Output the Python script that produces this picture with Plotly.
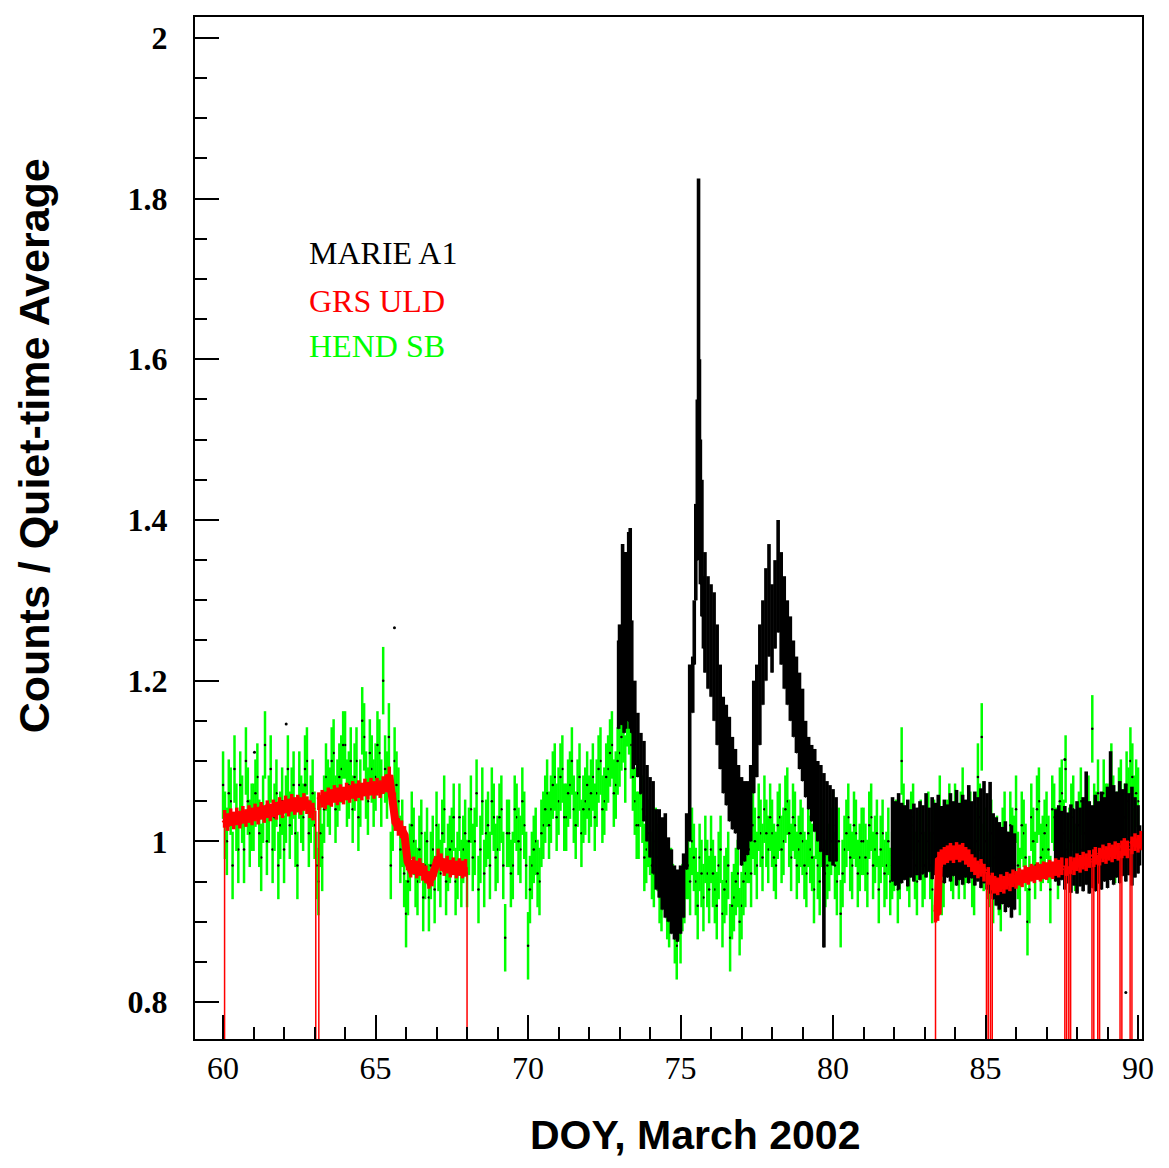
import plotly.graph_objects as go

# ---------------- DATA ----------------
# HEND SB: two interleaved sample sets, every HEND_DT days
HEND_T0_A = 60.0
HEND_T0_B = 60.0625
HEND_DT = 0.125
HEND_ERR = 0.042
hend_sb_a = [
    1.07, 1.00, 1.05, 1.09, 0.99, 1.04, 1.10, 1.01,   # 60
    1.03, 1.08, 0.98, 1.12, 1.04, 0.99, 1.06, 1.02,   # 61
    0.99, 1.09, 1.05, 1.01, 1.07, 1.03, 1.10, 1.04,   # 62
    1.02, 0.95, 0.98, 1.08, 1.05, 1.11, 1.06, 1.09,   # 63
    1.12, 1.07, 1.04, 1.10, 1.06, 1.13, 1.05, 1.09,   # 64
    1.08, 1.11, 1.20, 1.07, 0.97, 1.10, 1.05, 1.01,   # 65
    0.91, 0.98, 1.00, 0.95, 1.01, 0.97, 0.93, 0.99,   # 66
    1.02, 0.96, 1.04, 0.98, 1.00, 0.95, 1.03, 0.99,   # 67
    0.96, 1.04, 1.00, 0.94, 1.05, 1.01, 0.97, 1.03,   # 68
    0.99, 1.04, 0.88, 1.01, 0.97, 1.03, 0.99, 1.02,   # 69
    0.87, 0.97, 1.00, 0.95, 1.02, 1.06, 1.04, 1.08,   # 70
    1.05, 1.09, 1.03, 1.07, 1.04, 1.06, 1.01, 1.05,   # 71
    1.04, 1.08, 1.06, 1.10, 1.05, 1.09, 1.12, 1.07,   # 72
    1.11, 1.14, 1.16, 1.12, 1.05, 1.02, 1.04, 0.99,   # 73
    1.00, 0.96, 0.98, 0.93, 0.95, 0.91, 0.93, 0.87,   # 74
    0.89, 0.94, 0.97, 1.00, 0.95, 0.98, 0.93, 0.96,   # 75
    0.99, 0.94, 0.97, 0.91, 0.95, 0.88, 0.93, 0.96,   # 76
    0.92, 0.96, 0.99, 1.02, 0.97, 1.01, 1.04, 0.99,   # 77
    1.01, 0.97, 1.03, 1.00, 1.05, 0.98, 1.02, 0.99,   # 78
    1.00, 0.96, 0.99, 0.94, 0.97, 1.01, 0.96, 0.98,   # 79
    1.02, 0.95, 0.91, 0.99, 1.03, 0.97, 1.01, 0.98,   # 80
    1.00, 0.96, 1.03, 0.99, 0.94, 1.01, 0.97, 0.95,   # 81
    0.98, 0.94, 1.10, 1.00, 0.96, 1.03, 0.95, 1.01,   # 82
    0.97, 1.02, 0.94, 1.00, 1.04, 0.96, 1.01, 0.98,   # 83
    1.03, 0.97, 1.05, 0.99, 1.02, 0.95, 1.08, 1.13,   # 84
    1.00, 0.96, 0.94, 0.99, 0.93, 1.02, 0.97, 1.00,   # 85
    1.04, 0.95, 1.01, 0.90, 1.03, 0.97, 1.05, 0.99,   # 86
    1.02, 0.94, 1.03, 0.97, 1.06, 1.09, 1.00, 1.04,   # 87
    0.98, 1.05, 1.01, 1.04, 1.14, 1.02, 0.99, 1.06,   # 88
    1.03, 1.08, 0.99, 1.05, 1.01, 1.07, 1.10, 1.04,   # 89
    1.05,                                             # 90
]
hend_sb_b = [
    1.02, 1.06, 0.97, 1.03, 1.07, 0.99, 1.05, 1.03,   # 60
    1.06, 1.01, 1.04, 1.00, 1.09, 1.03, 0.97, 1.05,   # 61
    1.04, 1.02, 1.07, 0.97, 1.04, 1.09, 1.01, 1.06,   # 62
    0.97, 1.01, 1.04, 1.06, 1.10, 1.04, 1.08, 1.12,   # 63
    1.06, 1.10, 1.08, 1.03, 1.15, 1.07, 1.11, 1.06,   # 64
    1.12, 1.06, 1.09, 1.13, 1.03, 1.07, 0.99, 0.96,   # 65
    0.95, 1.02, 0.96, 0.99, 0.93, 1.00, 0.97, 0.94,   # 66
    0.98, 1.01, 0.95, 0.99, 1.03, 0.97, 0.96, 1.01,   # 67
    1.00, 0.98, 1.06, 0.99, 0.96, 1.02, 1.05, 0.98,   # 68
    1.03, 0.97, 1.01, 0.96, 1.04, 1.00, 1.05, 0.97,   # 69
    0.94, 0.99, 0.96, 1.01, 1.04, 1.02, 1.07, 1.03,   # 70
    1.08, 1.03, 1.06, 1.10, 1.02, 1.08, 1.04, 1.07,   # 71
    1.06, 1.03, 1.09, 1.04, 1.08, 1.11, 1.06, 1.10,   # 72
    1.13, 1.09, 1.15, 1.08, 1.02, 1.06, 0.98, 1.01,   # 73
    0.97, 1.00, 0.94, 0.97, 0.92, 0.95, 0.89, 0.92,   # 74
    0.93, 0.97, 0.95, 0.98, 0.92, 0.96, 0.99, 0.94,   # 75
    0.96, 0.92, 0.99, 0.94, 0.97, 0.92, 0.95, 0.90,   # 76
    0.95, 0.99, 0.96, 1.00, 1.03, 0.98, 1.01, 1.03,   # 77
    0.98, 1.02, 0.99, 1.04, 1.01, 1.03, 0.97, 1.01,   # 78
    0.97, 1.01, 0.98, 1.02, 0.95, 0.99, 0.97, 1.00,   # 79
    0.97, 1.00, 0.96, 1.01, 0.98, 1.02, 0.96, 1.00,   # 80
    0.98, 1.02, 0.97, 1.01, 0.99, 0.96, 1.00, 0.97,   # 81
    1.01, 0.97, 1.03, 0.98, 1.02, 0.97, 1.00, 0.96,   # 82
    1.00, 0.97, 1.01, 0.98, 0.95, 1.00, 1.03, 0.97,   # 83
    0.99, 1.02, 0.97, 1.01, 0.96, 1.00, 1.03, 0.98,   # 84
    0.97, 1.01, 0.98, 0.95, 1.00, 0.97, 1.02, 0.99,   # 85
    0.97, 1.02, 0.98, 0.94, 1.00, 1.04, 0.98, 1.01,   # 86
    0.99, 1.04, 1.00, 1.05, 1.01, 0.99, 1.03, 0.98,   # 87
    1.02, 0.99, 1.04, 1.00, 1.03, 1.06, 1.01, 1.03,   # 88
    1.01, 1.04, 1.02, 1.06, 1.03, 1.05, 1.08, 1.06,   # 89
]

# MARIE A1 upper / lower envelope - segment 1
marie1_x = [72.97, 73.00, 73.05, 73.10, 73.15, 73.20, 73.25, 73.30, 73.35, 73.40, 73.45, 73.50,
            73.60, 73.70, 73.80, 73.90, 74.00, 74.10, 74.20, 74.30, 74.40, 74.50,
            74.60, 74.70, 74.80, 74.90, 75.00, 75.10, 75.20, 75.30, 75.40, 75.45, 75.50,
            75.55, 75.59, 75.62, 75.65, 75.70, 75.75, 75.80, 75.90, 76.00, 76.10, 76.20,
            76.30, 76.40, 76.50, 76.60, 76.70, 76.80, 76.90, 77.00, 77.10, 77.20,
            77.30, 77.40, 77.50, 77.60, 77.70, 77.80, 77.90, 78.00, 78.10, 78.20,
            78.30, 78.40, 78.50, 78.60, 78.70, 78.80, 78.90, 79.00, 79.10, 79.20,
            79.30, 79.40, 79.50, 79.60, 79.70, 79.80, 79.90, 80.00, 80.10]
marie1_hi = [1.25, 1.27, 1.26, 1.37, 1.26, 1.36, 1.33, 1.385, 1.39, 1.275, 1.18, 1.20,
             1.16, 1.135, 1.125, 1.095, 1.08, 1.075, 1.04, 1.04, 1.03, 1.035,
             1.005, 0.99, 0.97, 0.965, 0.97, 0.985, 1.035, 1.22, 1.23, 1.30, 1.42,
             1.55, 1.825, 1.60, 1.50, 1.45, 1.33, 1.36, 1.33, 1.32, 1.31, 1.27,
             1.22, 1.18, 1.17, 1.155, 1.13, 1.115, 1.095, 1.08, 1.075, 1.075,
             1.095, 1.20, 1.22, 1.27, 1.30, 1.34, 1.37, 1.32, 1.35, 1.40,
             1.36, 1.33, 1.30, 1.28, 1.25, 1.23, 1.21, 1.19, 1.15, 1.13,
             1.12, 1.115, 1.10, 1.095, 1.085, 1.075, 1.07, 1.065, 1.055]
marie1_lo = [1.14, 1.15, 1.145, 1.145, 1.135, 1.14, 1.15, 1.15, 1.14, 1.135, 1.09, 1.095,
             1.08, 1.06, 1.025, 1.00, 0.98, 0.96, 0.94, 0.93, 0.915, 0.905,
             0.90, 0.885, 0.878, 0.875, 0.885, 0.905, 0.965, 1.00, 1.16, 1.22, 1.30,
             1.35, 1.38, 1.36, 1.32, 1.28, 1.24, 1.21, 1.19, 1.18, 1.15, 1.12,
             1.09, 1.06, 1.045, 1.025, 1.015, 1.01, 0.99, 0.97, 0.975, 0.983,
             1.00, 1.06, 1.08, 1.12, 1.17, 1.20, 1.23, 1.21, 1.24, 1.26,
             1.22, 1.19, 1.17, 1.15, 1.13, 1.11, 1.09, 1.075, 1.055, 1.04,
             1.025, 1.012, 1.00, 0.987, 0.868, 0.983, 0.975, 0.97, 0.975]

# MARIE A1 envelope - segment 2
marie2_x = [81.95, 82.05, 82.15, 82.25, 82.35, 82.45, 82.55, 82.65, 82.75, 82.85,
            82.95, 83.05, 83.15, 83.25, 83.35, 83.45, 83.55, 83.65, 83.75, 83.85,
            83.95, 84.05, 84.15, 84.25, 84.35, 84.45, 84.55, 84.65, 84.75, 84.85,
            84.95, 85.05, 85.15, 85.25, 85.35, 85.45, 85.55, 85.65, 85.75, 85.85, 85.95]
marie2_hi = [1.055, 1.05, 1.06, 1.048, 1.045, 1.052, 1.04, 1.047, 1.042, 1.05,
             1.045, 1.06, 1.042, 1.055, 1.048, 1.058, 1.044, 1.052, 1.046, 1.06,
             1.05, 1.064, 1.048, 1.058, 1.052, 1.07, 1.05, 1.062, 1.055, 1.066,
             1.075, 1.06, 1.074, 1.035, 1.03, 1.024, 1.018, 1.025, 1.012, 1.02, 1.01]
marie2_lo = [0.95, 0.945, 0.94, 0.948, 0.952, 0.944, 0.955, 0.95, 0.958, 0.952,
             0.96, 0.955, 0.962, 0.953, 0.958, 0.95, 0.956, 0.948, 0.955, 0.95,
             0.957, 0.945, 0.952, 0.946, 0.955, 0.948, 0.954, 0.945, 0.95, 0.942,
             0.948, 0.94, 0.935, 0.928, 0.92, 0.915, 0.922, 0.912, 0.918, 0.905, 0.915]

# MARIE A1 envelope - segment 3
marie3_x = [87.3, 87.4, 87.5, 87.6, 87.7, 87.8, 87.9, 88.0, 88.1, 88.2,
            88.3, 88.4, 88.5, 88.6, 88.7, 88.8, 88.9, 89.0, 89.1, 89.2,
            89.3, 89.4, 89.5, 89.6, 89.7, 89.8, 89.9, 90.0, 90.05]
marie3_hi = [1.04, 1.045, 1.038, 1.044, 1.036, 1.046, 1.04, 1.05, 1.042, 1.055,
             1.087, 1.05, 1.045, 1.058, 1.05, 1.062, 1.055, 1.068, 1.112, 1.07,
             1.062, 1.075, 1.065, 1.072, 1.06, 1.068, 1.055, 1.045, 1.02]
marie3_lo = [0.95, 0.945, 0.952, 0.94, 0.948, 0.936, 0.945, 0.935, 0.944, 0.938,
             0.946, 0.935, 0.942, 0.938, 0.948, 0.94, 0.95, 0.942, 0.952, 0.946,
             0.955, 0.948, 0.957, 0.95, 0.958, 0.945, 0.955, 0.96, 0.97]

# isolated MARIE points
marie_dot_x = [61.03, 62.07, 62.69, 65.62, 87.60, 89.60]
marie_dot_y = [1.111, 1.146, 1.070, 1.266, 1.102, 0.812]

# GRS ULD (0.0 = data dropout, drawn off-scale)
GRS_HALF_WIDTH = 0.011
grs_x = [60.00, 60.05, 60.15, 60.25, 60.35, 60.45, 60.55, 60.65, 60.75, 60.85, 60.95,
         61.05, 61.15, 61.25, 61.35, 61.45, 61.55, 61.65, 61.75, 61.85, 61.95,
         62.05, 62.15, 62.25, 62.35, 62.45, 62.55, 62.65, 62.75, 62.85, 62.95,
         63.04, 63.14, 63.25, 63.35, 63.45, 63.55, 63.65, 63.75, 63.85, 63.95,
         64.05, 64.15, 64.25, 64.35, 64.45, 64.55, 64.65, 64.75, 64.85, 64.95,
         65.05, 65.15, 65.25, 65.35, 65.45, 65.55, 65.65, 65.75, 65.85, 65.95,
         66.05, 66.15, 66.25, 66.35, 66.45, 66.55, 66.65, 66.75, 66.85, 66.95,
         67.05, 67.15, 67.25, 67.35, 67.45, 67.55, 67.65, 67.75, 67.85, 67.95, 68.00,
         83.33, 83.36, 83.43, 83.47, 83.55, 83.65, 83.75, 83.85, 83.95, 84.05, 84.15,
         84.25, 84.35, 84.45, 84.55, 84.65, 84.75, 84.85, 84.95,
         85.03, 85.09, 85.16, 85.22, 85.30, 85.40, 85.50, 85.60, 85.70, 85.80, 85.90,
         86.00, 86.10, 86.20, 86.30, 86.40, 86.50, 86.60, 86.70, 86.80, 86.90, 87.00,
         87.10, 87.20, 87.30, 87.40, 87.50,
         87.60, 87.66, 87.73, 87.79, 87.90, 88.00, 88.10, 88.20, 88.30, 88.40,
         88.49, 88.55, 88.60, 88.68, 88.74, 88.85, 88.95, 89.05, 89.15, 89.25, 89.35,
         89.41, 89.47, 89.55, 89.65, 89.74, 89.80, 89.90, 90.00, 90.10, 90.13]
grs_y = [0.0, 1.028, 1.024, 1.030, 1.026, 1.031, 1.027, 1.033, 1.029, 1.034, 1.031,
         1.036, 1.032, 1.038, 1.034, 1.040, 1.036, 1.041, 1.038, 1.044, 1.040,
         1.046, 1.042, 1.048, 1.044, 1.047, 1.044, 1.049, 1.045, 1.040, 1.037,
         0.0, 1.050, 1.053, 1.051, 1.056, 1.054, 1.059, 1.056, 1.060, 1.057,
         1.062, 1.059, 1.064, 1.061, 1.065, 1.062, 1.067, 1.063, 1.068, 1.064,
         1.068, 1.065, 1.070, 1.072, 1.082, 1.060, 1.024, 1.018, 1.015, 1.008,
         0.975, 0.966, 0.970, 0.965, 0.968, 0.962, 0.959, 0.952, 0.955, 0.967,
         0.980, 0.974, 0.968, 0.971, 0.966, 0.969, 0.965, 0.968, 0.965, 0.967, 0.0,
         0.0, 0.910, 0.912, 0.976, 0.979, 0.982, 0.984, 0.987, 0.984, 0.988, 0.985,
         0.987, 0.982, 0.979, 0.973, 0.969, 0.965, 0.967, 0.961,
         0.0, 0.957, 0.0, 0.950, 0.946, 0.944, 0.948, 0.946, 0.951, 0.949, 0.954,
         0.952, 0.956, 0.954, 0.959, 0.957, 0.961, 0.959, 0.963, 0.961, 0.964, 0.963,
         0.966, 0.964, 0.968, 0.966, 0.969,
         0.0, 0.968, 0.0, 0.970, 0.969, 0.974, 0.972, 0.976, 0.974, 0.978,
         0.0, 0.979, 0.982, 0.0, 0.981, 0.985, 0.983, 0.987, 0.985, 0.989, 0.987,
         0.0, 0.990, 0.993, 0.990, 0.0, 0.995, 0.999, 0.997, 1.002, 1.000]

x_ticks = [60, 65, 70, 75, 80, 85, 90]
y_ticks = [0.8, 1.0, 1.2, 1.4, 1.6, 1.8, 2.0]
y_tick_text = ["0.8", "1", "1.2", "1.4", "1.6", "1.8", "2"]

# ---------------- FIGURE ----------------
GREEN = "#00ff00"
RED = "#ff0000"

fig = go.Figure()

for t0, vals in [(HEND_T0_A, hend_sb_a), (HEND_T0_B, hend_sb_b)]:
    xs = [t0 + i * HEND_DT for i in range(len(vals))]
    fig.add_trace(go.Scatter(
        x=xs, y=vals, mode="markers",
        marker=dict(color="black", size=2.5),
        error_y=dict(type="constant", value=HEND_ERR, color=GREEN, thickness=2.5, width=0),
        showlegend=False, hoverinfo="skip"))

for xs, hi, lo in [(marie1_x, marie1_hi, marie1_lo),
                   (marie2_x, marie2_hi, marie2_lo),
                   (marie3_x, marie3_hi, marie3_lo)]:
    fig.add_trace(go.Scatter(
        x=xs, y=lo, mode="markers",
        marker=dict(color="black", size=1),
        error_y=dict(type="data", symmetric=False,
                     array=[h - l for h, l in zip(hi, lo)],
                     arrayminus=[0] * len(lo),
                     color="black", thickness=3.6, width=0),
        showlegend=False, hoverinfo="skip"))

fig.add_trace(go.Scatter(
    x=marie_dot_x, y=marie_dot_y, mode="markers",
    marker=dict(color="black", size=3), showlegend=False, hoverinfo="skip"))

grs_band = [v if v > 0.5 else None for v in grs_y]
fig.add_trace(go.Scatter(
    x=grs_x, y=grs_y, mode="lines", line=dict(color=RED, width=1.5, shape="hv"),
    showlegend=False, hoverinfo="skip"))
fig.add_trace(go.Scatter(
    x=grs_x, y=grs_band, mode="lines", line=dict(color=RED, width=8),
    error_y=dict(type="constant", value=GRS_HALF_WIDTH, color=RED, thickness=3.5, width=0),
    connectgaps=False, showlegend=False, hoverinfo="skip"))

serif = "Liberation Serif, Times New Roman, serif"
sans = "Liberation Sans, Arial, sans-serif"

fig.update_layout(
    width=1161, height=1160,
    margin=dict(l=187, r=27, t=7, b=129),
    paper_bgcolor="white", plot_bgcolor="white",
    showlegend=False,
    xaxis=dict(
        range=[59.08, 90.13], showgrid=False, zeroline=False,
        showline=True, linecolor="black", linewidth=2, mirror=True,
        tickmode="array", tickvals=x_ticks, ticktext=[str(t) for t in x_ticks],
        ticks="inside", ticklen=24, tickwidth=1.5, tickcolor="black",
        minor=dict(dtick=1, tick0=60, ticks="inside", ticklen=12, tickwidth=1.5,
                   tickcolor="black", showgrid=False),
        tickfont=dict(family=serif, size=32, color="black"),
        ticklabelstandoff=0,
    ),
    yaxis=dict(
        range=[0.754, 2.026], showgrid=False, zeroline=False,
        showline=True, linecolor="black", linewidth=2, mirror=True,
        tickmode="array", tickvals=y_ticks, ticktext=y_tick_text,
        ticks="inside", ticklen=24, tickwidth=1.5, tickcolor="black",
        minor=dict(dtick=0.05, tick0=0.8, ticks="inside", ticklen=12, tickwidth=1.5,
                   tickcolor="black", showgrid=False),
        tickfont=dict(family=serif, size=32, color="black", weight="bold"),
        ticklabelstandoff=19,
    ),
    annotations=[
        dict(text="MARIE A1", x=0.1183, y=0.7686, xref="paper", yref="paper",
             xanchor="left", yanchor="middle", showarrow=False,
             font=dict(family=serif, size=32, color="black")),
        dict(text="GRS ULD", x=0.1183, y=0.7217, xref="paper", yref="paper",
             xanchor="left", yanchor="middle", showarrow=False,
             font=dict(family=serif, size=32, color=RED)),
        dict(text="HEND SB", x=0.1183, y=0.6777, xref="paper", yref="paper",
             xanchor="left", yanchor="middle", showarrow=False,
             font=dict(family=serif, size=32, color=GREEN)),
        dict(text="<b>DOY, March 2002</b>", x=0.528, y=-0.0938, xref="paper", yref="paper",
             xanchor="center", yanchor="middle", showarrow=False,
             font=dict(family=sans, size=41, color="black")),
        dict(text="<b>Counts / Quiet-time Average</b>", x=-0.1700, y=0.580,
             xref="paper", yref="paper", textangle=-90, borderpad=0,
             xanchor="center", yanchor="middle", showarrow=False,
             font=dict(family=sans, size=43, color="black")),
    ],
)

fig.write_html("out.html")
